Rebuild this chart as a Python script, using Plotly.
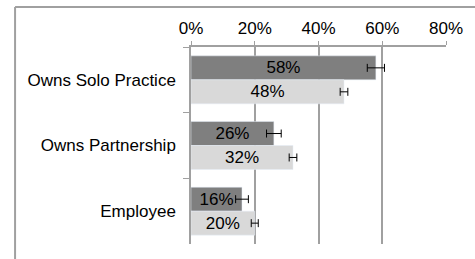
import plotly.graph_objects as go

categories = ["Owns Solo Practice", "Owns Partnership", "Employee"]
series_a = [58, 26, 16]
series_a_err = [2.7, 2.3, 2.0]
series_b = [48, 32, 20]
series_b_err = [1.2, 1.2, 1.1]
tick_vals = [0, 20, 40, 60, 80]
tick_text = ["0%", "20%", "40%", "60%", "80%"]

FONT = "Liberation Sans"
fig = go.Figure()
fig.add_trace(go.Bar(
    y=categories, x=series_a, orientation="h",
    marker=dict(color="#7f7f7f"),
    text=[f"{v}%" for v in series_a], textposition="inside",
    insidetextanchor="middle", textfont=dict(color="black", size=17, family=FONT),
    error_x=dict(type="data", array=series_a_err, color="black", thickness=1, width=4),
    showlegend=False,
))
fig.add_trace(go.Bar(
    y=categories, x=series_b, orientation="h",
    marker=dict(color="#d9d9d9"),
    text=[f"{v}%" for v in series_b], textposition="inside",
    insidetextanchor="middle", textfont=dict(color="black", size=17, family=FONT),
    error_x=dict(type="data", array=series_b_err, color="black", thickness=1, width=4),
    showlegend=False,
))

L, R, T, B = 191, 26, 47, 15
W, H = 475, 259
pw, ph = W - L - R, H - T - B

fig.update_layout(
    width=W, height=H,
    margin=dict(l=L, r=R, t=T, b=B),
    paper_bgcolor="white", plot_bgcolor="white",
    barmode="group", bargap=0.27, bargroupgap=0,
    font=dict(family=FONT, size=17, color="black"),
    uniformtext=dict(minsize=17, mode="show"),
    xaxis=dict(
        side="top", range=[0, 80], tickvals=tick_vals, ticktext=tick_text,
        showgrid=True, gridcolor="#a0a0a0", gridwidth=1.5,
        showline=True, linecolor="#a0a0a0", linewidth=1.5,
        ticks="outside", ticklen=4, tickcolor="#a0a0a0",
        zeroline=False, tickfont=dict(size=17), fixedrange=True,
    ),
    yaxis=dict(
        autorange="reversed", showline=True, linecolor="#a0a0a0", linewidth=1.5,
        ticks="outside", ticklen=6, tickcolor="#a0a0a0", tickson="boundaries",
        showgrid=False, tickfont=dict(size=17), ticklabelstandoff=10,
    ),
    shapes=[
        dict(type="line", xref="paper", yref="paper",
             x0=(13 - L) / pw, x1=(13 - L) / pw, y0=1 + (T - 7) / ph, y1=-(B + 5) / ph,
             line=dict(color="#a0a0a0", width=2)),
        dict(type="line", xref="paper", yref="paper",
             x0=(13 - L) / pw, x1=1 + (R + 5) / pw, y0=1 + (T - 7) / ph, y1=1 + (T - 7) / ph,
             line=dict(color="#a0a0a0", width=2)),
    ],
)

fig.write_html("out.html", config={"displayModeBar": False},
               post_script="document.body.style.margin='0';")
